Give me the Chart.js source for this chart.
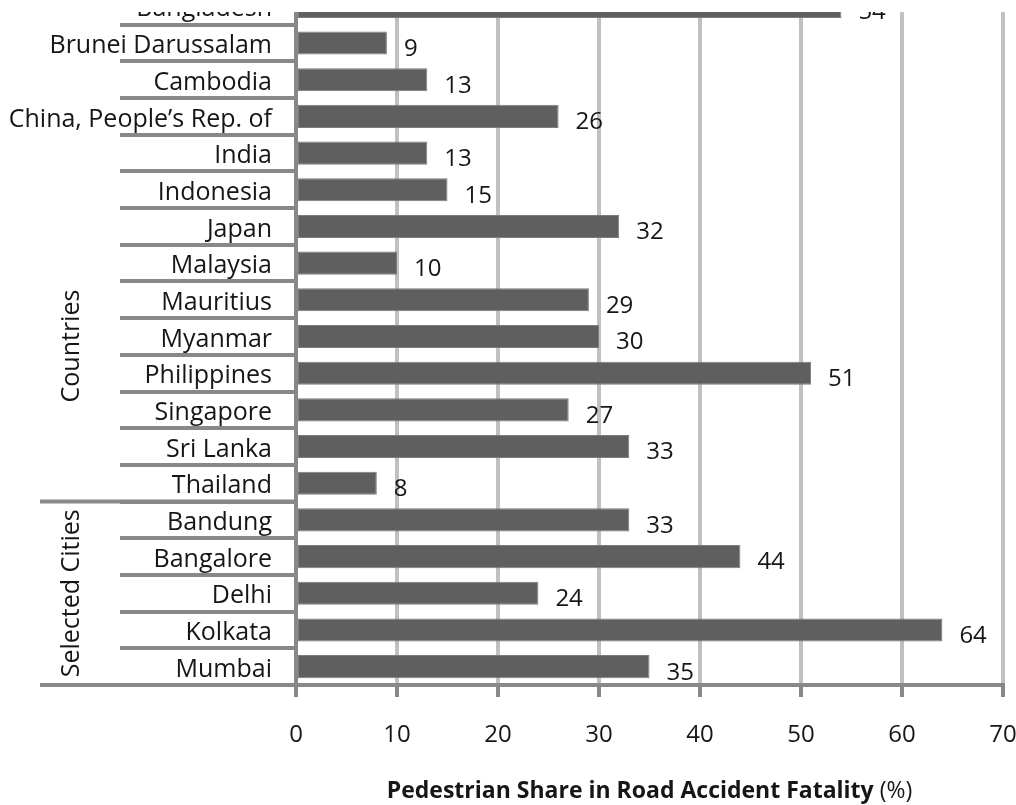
<!DOCTYPE html>
<html>
<head>
<meta charset="utf-8">
<script src="https://cdn.jsdelivr.net/npm/chart.js@4/dist/chart.umd.min.js"></script>
<style>
  html, body { margin: 0; padding: 0; background: #fff; overflow: hidden; }
  #frame { position: absolute; left: 0; top: 12px; width: 1016px; height: 793px; overflow: hidden; background: #fff; }
  #chart { position: absolute; left: 0; top: -42px; }
</style>
</head>
<body>
<div id="frame"><canvas id="chart" width="1016" height="835"></canvas></div>
<script>
// Categories (countries first, then selected cities)
const categories = [
  'Bangladesh', 'Brunei Darussalam', 'Cambodia', 'China, People\u2019s Rep. of', 'India',
  'Indonesia', 'Japan', 'Malaysia', 'Mauritius', 'Myanmar', 'Philippines', 'Singapore',
  'Sri Lanka', 'Thailand', 'Bandung', 'Bangalore', 'Delhi', 'Kolkata', 'Mumbai'
];
// Pedestrian share of road accident fatalities, %
const shares = [54, 9, 13, 26, 13, 15, 32, 10, 29, 30, 51, 27, 33, 8, 33, 44, 24, 64, 35];
// Category groups (first and last index of each group)
const groupNames = ['Countries', 'Selected Cities'];
const groupFirst = [0, 14];
const groupLast = [13, 18];
// Value axis ticks
const xTickValues = [0, 10, 20, 30, 40, 50, 60, 70];
const axisTitleBold = 'Pedestrian Share in Road Accident Fatality';
const axisTitleUnit = ' (%)';

const FONT = "'Open Sans', 'DejaVu Sans', sans-serif";
const TEXT = '#161616';
const AXIS = '#888888';
const GRID = '#c0c0c0';

// Where the rotated group captions sit (category index units)
const groupCaptionRow = [9.26, null];

const decorations = {
  id: 'decorations',
  afterDatasetsDraw(chart) {
    const ctx = chart.ctx;
    ctx.save();
    // value labels beside each bar
    ctx.font = '24px ' + FONT;
    ctx.fillStyle = TEXT;
    ctx.textAlign = 'left';
    ctx.textBaseline = 'middle';
    chart.getDatasetMeta(0).data.forEach((bar, i) => {
      ctx.fillText(String(shares[i]), bar.x + 17, bar.y + 6);
    });
    ctx.restore();
  },
  afterDraw(chart) {
    const ctx = chart.ctx;
    const y = chart.scales.y;
    const area = chart.chartArea;
    const rowH = y.getPixelForValue(1) - y.getPixelForValue(0);
    ctx.save();
    // long separators between groups and along the base
    ctx.strokeStyle = AXIS;
    ctx.lineWidth = 4;
    groupLast.forEach((last) => {
      const yy = y.getPixelForValue(last) + rowH / 2;
      ctx.beginPath();
      ctx.moveTo(40, yy);
      ctx.lineTo(area.left, yy);
      ctx.stroke();
    });

    // rotated group captions
    ctx.font = '25px ' + FONT;
    ctx.fillStyle = TEXT;
    ctx.textAlign = 'center';
    ctx.textBaseline = 'middle';
    groupNames.forEach((name, g) => {
      const row = groupCaptionRow[g] != null ? groupCaptionRow[g] : (groupFirst[g] + groupLast[g]) / 2;
      const cy = y.getPixelForValue(0) + row * rowH;
      ctx.save();
      ctx.translate(72, cy);
      ctx.rotate(-Math.PI / 2);
      ctx.fillText(name, 0, 0);
      ctx.restore();
    });

    // value axis title: bold caption with plain unit
    const boldFont = 'bold 23px ' + FONT;
    const plainFont = '23px ' + FONT;
    ctx.font = boldFont;
    const wB = ctx.measureText(axisTitleBold).width;
    ctx.font = plainFont;
    const wU = ctx.measureText(axisTitleUnit).width;
    const cx = (area.left + area.right) / 2;
    const x0 = cx - (wB + wU) / 2;
    const ty = 821;
    ctx.textAlign = 'left';
    ctx.font = boldFont;
    ctx.fillText(axisTitleBold, x0, ty);
    ctx.font = plainFont;
    ctx.fillText(axisTitleUnit, x0 + wB, ty);
    ctx.restore();
  }
};

new Chart(document.getElementById('chart'), {
  type: 'bar',
  data: {
    labels: categories,
    datasets: [{
      data: shares,
      backgroundColor: '#5f5f5f',
      borderColor: '#7c7c7c',
      borderWidth: 1,
      borderSkipped: false,
      barPercentage: 0.63,
      categoryPercentage: 1
    }]
  },
  options: {
    indexAxis: 'y',
    responsive: false,
    animation: false,
    events: [],
    layout: { padding: { top: 18, right: 13, left: 0, bottom: 0 } },
    plugins: { legend: { display: false }, tooltip: { enabled: false } },
    scales: {
      x: {
        type: 'linear',
        min: xTickValues[0],
        max: xTickValues[xTickValues.length - 1],
        afterBuildTicks(scale) { scale.ticks = xTickValues.map(v => ({ value: v })); },
        afterFit(scale) {
          scale.height = 120;
          scale.paddingLeft = 0;
          scale.paddingRight = 0;
        },
        ticks: { font: { family: FONT, size: 24 }, color: TEXT, padding: 24 },
        grid: {
          color: (c) => (c.tick && c.tick.value === 0 ? AXIS : GRID),
          lineWidth: 4,
          tickColor: AXIS,
          tickWidth: 4,
          tickLength: 12
        },
        border: { display: true, color: AXIS, width: 4 }
      },
      y: {
        type: 'category',
        offset: true,
        afterFit(scale) {
          scale.width = 296;
          scale.paddingTop = 0;
          scale.paddingBottom = 0;
        },
        ticks: {
          autoSkip: false,
          font: { family: FONT, size: 25 },
          color: TEXT,
          padding: -152,
          labelOffset: 3
        },
        grid: {
          offset: true,
          drawOnChartArea: false,
          drawTicks: true,
          tickLength: 176,
          color: AXIS,
          lineWidth: 4
        },
        border: { display: true, color: AXIS, width: 4 }
      }
    }
  },
  plugins: [decorations]
});
</script>
</body>
</html>
